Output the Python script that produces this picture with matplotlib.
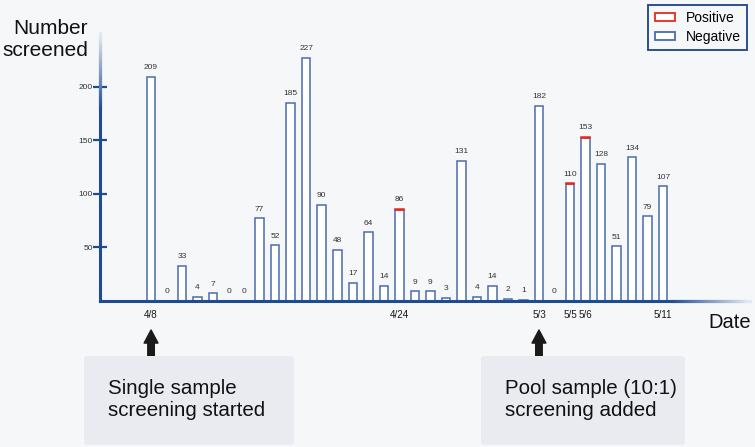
import matplotlib.pyplot as plt
import numpy as np
from matplotlib.collections import LineCollection
from matplotlib.colors import to_rgb
from matplotlib.patches import Patch, FancyBboxPatch

plt.rcParams['font.family'] = ['Liberation Sans', 'DejaVu Sans']

# daily counts 4/8 .. 5/11
days = ['4/8', '4/9', '4/10', '4/11', '4/12', '4/13', '4/14', '4/15', '4/16', '4/17',
        '4/18', '4/19', '4/20', '4/21', '4/22', '4/23', '4/24', '4/25', '4/26', '4/27',
        '4/28', '4/29', '4/30', '5/1', '5/2', '5/3', '5/4', '5/5', '5/6', '5/7',
        '5/8', '5/9', '5/10', '5/11']
screened = [209, 0, 33, 4, 7, 0, 0, 77, 52, 185, 227, 90, 48, 17, 64, 14, 86,
            9, 9, 3, 131, 4, 14, 2, 1, 182, 0, 110, 153, 128, 51, 134, 79, 107]
positive = [0, 0, 0, 0, 0, 0, 0, 0, 0, 0, 0, 0, 0, 0, 0, 0, 1,
            0, 0, 0, 0, 0, 0, 0, 0, 0, 0, 1, 1, 0, 0, 0, 0, 0]
shown_dates = ['4/8', '4/24', '5/3', '5/5', '5/6', '5/11']
y_ticks = [50, 100, 150, 200]

BG = '#f6f7f9'
AXC = '#1f4b93'
BARC = '#4a6cae'
REDC = '#e8281e'

x = np.arange(len(days))
neg = np.array(screened) - np.array(positive)
pos = np.array(positive)

fig = plt.figure(figsize=(7.55, 4.47), dpi=100, facecolor=BG)
ax = fig.add_axes([100/755, 1-301/447, 650/755, 268/447])
ax.set_facecolor(BG)

ax.bar(x, neg, width=0.55, facecolor='white', edgecolor=BARC, linewidth=1.1, zorder=2)
ax.bar(x[pos > 0], pos[pos > 0], bottom=neg[pos > 0], width=0.55, facecolor='white',
       edgecolor=REDC, linewidth=1.1, zorder=3)

for xi, v in zip(x, screened):
    ax.annotate(str(v), (xi, v), xytext=(0, 4), textcoords='offset points',
                ha='center', va='bottom', fontsize=6, color='#333333')

ax.set_xlim(-3.29, 38.6)
ax.set_ylim(0, 250)

for s in ax.spines.values():
    s.set_visible(False)

# axis lines, fading into the background at the far end
def fade_line(p0, p1, fade_from):
    n = 60
    t = np.concatenate([[0], np.linspace(fade_from, 1, n + 1)])
    pts = np.array(p0) + np.outer(t, np.array(p1) - np.array(p0))
    segs = np.stack([pts[:-1], pts[1:]], axis=1)
    tm = (t[:-1] + t[1:]) / 2
    k = np.clip((tm - fade_from) / (1 - fade_from), 0, 1) * 0.92
    c0, c1 = np.array(to_rgb(AXC)), np.array(to_rgb(BG))
    cols = [tuple(c0 * (1 - a) + c1 * a) for a in k]
    lc = LineCollection(segs, colors=cols, linewidths=2.2, transform=ax.transAxes,
                        clip_on=False, zorder=4, capstyle='projecting')
    ax.add_collection(lc)

fade_line((0, 0), (1, 0), 0.88)
fade_line((0, 0), (0, 1), 0.72)

ax.set_yticks(y_ticks)
ax.tick_params(axis='y', direction='inout', length=10, width=1.6, color=AXC,
               labelsize=6, labelcolor='#333333', pad=0)
ax.set_xticks([days.index(d) for d in shown_dates])
ax.set_xticklabels(shown_dates)
ax.tick_params(axis='x', length=0, labelsize=7.1, labelcolor='#1a1a1a', pad=6.5)

fig.text(88/755, 1-19/447, 'Number\nscreened', ha='right', va='top', fontsize=15,
         color='#111111', linespacing=1.22)
fig.text(751/755, 1-323/447, 'Date', ha='right', va='center', fontsize=14.5,
         color='#111111')

handles = [Patch(facecolor='white', edgecolor=REDC, linewidth=1.3, label='Positive'),
           Patch(facecolor='white', edgecolor=BARC, linewidth=1.3, label='Negative')]
leg = fig.legend(handles=handles, loc='upper right', bbox_to_anchor=(747/755, 1-5/447),
                 borderaxespad=0, fontsize=10, frameon=True, fancybox=False,
                 edgecolor='#2d4f8f', facecolor=BG, framealpha=1, handlelength=1.5,
                 handleheight=0.5, borderpad=0.45, labelspacing=0.35, handletextpad=0.75)
leg.get_frame().set_linewidth(1.4)

# annotation boxes
for bx0, bx1, txt in [(84, 294, 'Single sample\nscreening started'),
                      (481, 685, 'Pool sample (10:1)\nscreening added')]:
    box = FancyBboxPatch((bx0/755, 1-445/447), (bx1-bx0)/755, 89/447,
                         boxstyle='round,pad=0,rounding_size=0.006',
                         transform=fig.transFigure, facecolor='#e9ebf1',
                         edgecolor='none', zorder=0)
    fig.patches.append(box)
    fig.text((bx0+24)/755, 1-400/447, txt, ha='left', va='center', fontsize=14.8,
             color='#111111', linespacing=1.2)

for d in ['4/8', '5/3']:
    ax.annotate('', xy=(days.index(d), 447-330), xytext=(days.index(d), 447-357),
                xycoords=('data', 'figure pixels'), textcoords=('data', 'figure pixels'),
                arrowprops=dict(arrowstyle='simple,head_length=0.94,head_width=1.0,tail_width=0.47',
                                color='#1a1a1a', mutation_scale=10, shrinkA=0, shrinkB=0))

fig.savefig('out.png', dpi=100, facecolor=BG)
